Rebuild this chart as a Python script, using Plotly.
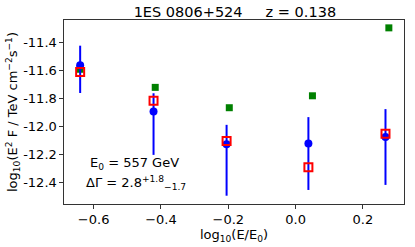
import plotly.graph_objects as go

# Data
blue_x = [-0.640, -0.422, -0.205, 0.038, 0.267]
blue_y = [-11.564, -11.893, -12.126, -12.121, -12.074]
blue_err_plus = [0.140, 0.130, 0.138, 0.188, 0.198]
blue_err_minus = [0.197, 0.309, 0.367, 0.331, 0.342]

red_x = [-0.640, -0.422, -0.205, 0.038, 0.267]
red_y = [-11.612, -11.816, -12.104, -12.290, -12.052]

green_x = [-0.640, -0.417, -0.197, 0.050, 0.277]
green_y = [-11.592, -11.721, -11.866, -11.781, -11.297]

xtick_vals = [-0.6, -0.4, -0.2, 0.0, 0.2]
xtick_text = ["\u22120.6", "\u22120.4", "\u22120.2", "0.0", "0.2"]
ytick_vals = [-11.4, -11.6, -11.8, -12.0, -12.2, -12.4]
ytick_text = ["-11.4", "-11.6", "-11.8", "-12.0", "-12.2", "-12.4"]

FONT = "DejaVu Sans"
SP = "&nbsp;"

fig = go.Figure()

fig.add_trace(go.Scatter(
    x=green_x, y=green_y, mode="markers",
    marker=dict(symbol="square", size=7, color="green", line=dict(width=0)),
    showlegend=False, hoverinfo="skip"))

fig.add_trace(go.Scatter(
    x=blue_x, y=blue_y, mode="markers",
    marker=dict(symbol="circle", size=8, color="blue", line=dict(width=0)),
    error_y=dict(type="data", symmetric=False, array=blue_err_plus,
                 arrayminus=blue_err_minus, color="blue", thickness=2, width=0),
    showlegend=False, hoverinfo="skip"))

fig.add_trace(go.Scatter(
    x=red_x, y=red_y, mode="markers",
    marker=dict(symbol="square-open", size=8, color="red", line=dict(width=2, color="red")),
    showlegend=False, hoverinfo="skip"))

fig.add_annotation(x=-0.479, y=-12.266, xref="x", yref="y",
                   text="E<sub>0</sub>" + SP + "=" + SP + "557 GeV", showarrow=False,
                   font=dict(family=FONT, size=13, color="black"))
fig.add_annotation(x=-0.475, y=-12.405, xref="x", yref="y",
                   text="\u0394\u0393" + SP + "=" + SP + "2.8<sup>+1.8</sup><sub>\u22121.7</sub>",
                   showarrow=False,
                   font=dict(family=FONT, size=13, color="black"))

fig.update_layout(
    width=415, height=247,
    margin=dict(l=64, r=11, t=20, b=43),
    paper_bgcolor="white", plot_bgcolor="white",
    font=dict(family=FONT, size=13, color="black"),
    title=dict(text="1ES 0806+524" + SP * 5 + "z = 0.138",
               x=0.566, xanchor="center", yref="container", y=0.952, yanchor="middle",
               font=dict(family=FONT, size=14.5, color="black")),
    xaxis=dict(range=[-0.688, 0.322], tickvals=xtick_vals, ticktext=xtick_text,
               showgrid=False, zeroline=False, showline=True, linecolor="#333333",
               linewidth=1.2, mirror=True, ticks="outside", ticklen=3.5,
               tickcolor="#333333", tickfont=dict(size=13),
               title=dict(text="log<sub>10</sub>(E/E<sub>0</sub>)", standoff=1,
                          font=dict(size=13))),
    yaxis=dict(range=[-12.552, -11.241], tickvals=ytick_vals, ticktext=ytick_text,
               showgrid=False, zeroline=False, showline=True, linecolor="#333333",
               linewidth=1.2, mirror=True, ticks="outside", ticklen=3.5,
               tickcolor="#333333", tickfont=dict(size=13),
               title=dict(text="log<sub>10</sub>(E<sup>2</sup> F / TeV cm<sup>\u22122</sup>s<sup>\u22121</sup>)",
                          standoff=2, font=dict(size=13))),
)

fig.write_html("out.html", config={"displayModeBar": False},
               post_script="document.body.style.margin='0px';"
                           "document.documentElement.style.overflow='hidden';")
